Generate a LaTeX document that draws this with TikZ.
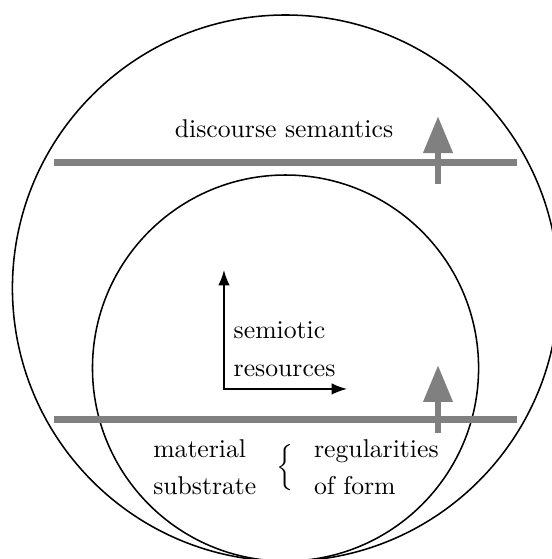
\documentclass[tikz,border=0pt]{standalone}
\usepackage{amsmath}
\usetikzlibrary{arrows.meta}

\begin{document}
\begin{tikzpicture}[
    >=Latex,
    semithick,
    level/.style={
        draw=gray,
        line width=2.7pt
    },
    rise/.style={
        draw=gray,
        line width=2.7pt,
        -{Triangle[width=0.383cm,length=0.506cm]}
    },
    axis/.style={
        {Latex[length=6pt,width=4.5pt]}-{Latex[length=6pt,width=4.5pt]}
    },
    txt/.style={
        align=left,
        inner sep=0pt
    }
]
\useasboundingbox (0,0) rectangle (7.551,7.647);

% the two strata
\coordinate (outerC) at (3.906,3.706);
\coordinate (innerC) at (3.906,2.612);
\draw (outerC) circle (3.736);
\draw (innerC) circle (2.641);

% level lines
\coordinate (topL) at (0.739,5.421);
\coordinate (topR) at (7.072,5.421);
\coordinate (botL) at (0.739,1.911);
\coordinate (botR) at (7.072,1.911);

\draw[level] (topL) -- (topR);
\draw[level] (botL) -- (botR);

% realisation arrows
\coordinate (topFoot) at (5.992,5.130);
\coordinate (topTip) at (5.992,6.060);
\coordinate (botFoot) at (5.992,1.724);
\coordinate (botTip) at (5.992,2.654);

\draw[rise] (topFoot) -- (topTip);
\draw[rise] (botFoot) -- (botTip);

% labels (base = last line)
\node[txt, anchor=base] (semantics) at (3.885,5.766)
{discourse semantics};

\node[txt, anchor=base west] (resources) at (3.187,2.490)
{semiotic\\[2.8pt]resources};

\node[txt, anchor=base west] (substrate) at (2.086,0.889)
{material\\[2.2pt]substrate};

\node (brace) at (3.899,1.245)
{$\Big\{$};

\node[txt, anchor=base west] (form) at (4.287,0.889)
{regularities\\[2.2pt]of form};

% axes
\coordinate (axisUp) at (3.064,3.953);
\coordinate (axisRight) at (4.747,2.326);

\draw[axis] (axisUp) |- (axisRight);

\end{tikzpicture}
\end{document}
